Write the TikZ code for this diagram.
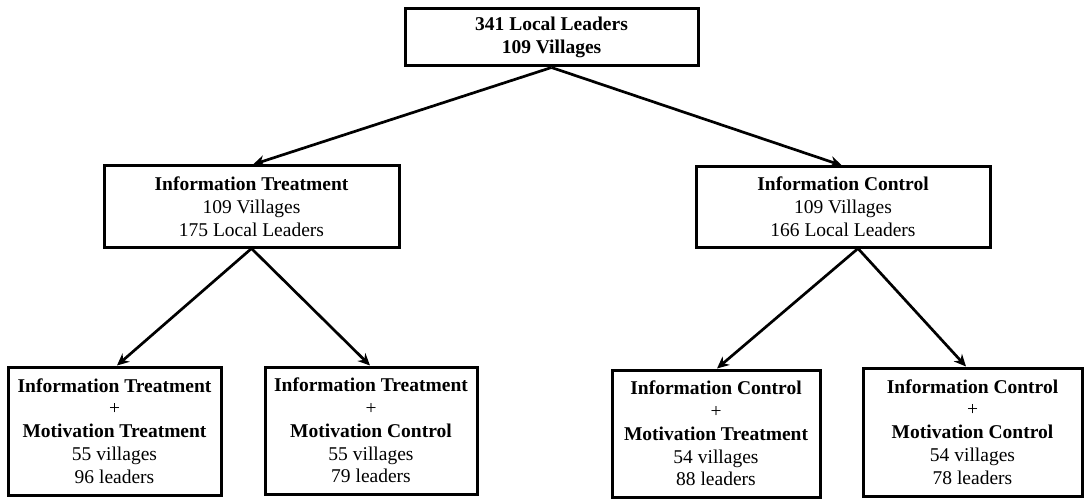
\documentclass[tikz,border=0pt]{standalone}
\usepackage{fontspec}
\setmainfont{Liberation Serif}
\usetikzlibrary{arrows.meta}
\begin{document}
\begin{tikzpicture}[x=1pt,y=-1pt,
  box/.style={draw=black,line width=3pt,inner sep=0pt,align=center,
    font=\fontsize{19.5}{22.8}\selectfont},
  arr/.style={line width=2.7pt,-{Stealth[length=12pt,width=11pt]}}]
\useasboundingbox (0,0) rectangle (1090,500);
\node[box,minimum width=293pt,minimum height=57pt] (top) at (551.5,37.5)
  {\textbf{341 Local Leaders}\\\textbf{109 Villages}};
\node[box,minimum width=295pt,minimum height=81pt] (it) at (251.5,206.5)
  {\textbf{Information Treatment}\\109 Villages\\175 Local Leaders};
\node[box,minimum width=294pt,minimum height=80pt] (ic) at (843,207)
  {\textbf{Information Control}\\109 Villages\\166 Local Leaders};
\node[box,minimum width=213pt,minimum height=128pt] (b1) at (114.5,431)
  {\textbf{Information Treatment}\\+\\\textbf{Motivation Treatment}\\55 villages\\96 leaders};
\node[box,minimum width=212pt,minimum height=127pt] (b2) at (371,430.5)
  {\textbf{Information Treatment}\\+\\\textbf{Motivation Control}\\55 villages\\79 leaders};
\node[box,minimum width=208pt,minimum height=127pt] (b3) at (716,433.5)
  {\textbf{Information Control}\\+\\\textbf{Motivation Treatment}\\54 villages\\88 leaders};
\node[box,minimum width=219pt,minimum height=128pt] (b4) at (972.5,432)
  {\textbf{Information Control}\\+\\\textbf{Motivation Control}\\54 villages\\78 leaders};
\draw[arr] (top.south) -- ([xshift=1.5pt]it.north);
\draw[arr] (top.south) -- ([xshift=-1pt]ic.north);
\draw[arr] (it.south) -- ([xshift=2.5pt]b1.north);
\draw[arr] (it.south) -- ([xshift=-1pt]b2.north);
\draw[arr] ([xshift=15pt]ic.south) -- ([xshift=1pt]b3.north);
\draw[arr] ([xshift=15pt]ic.south) -- ([xshift=-6.5pt]b4.north);
\end{tikzpicture}
\end{document}
